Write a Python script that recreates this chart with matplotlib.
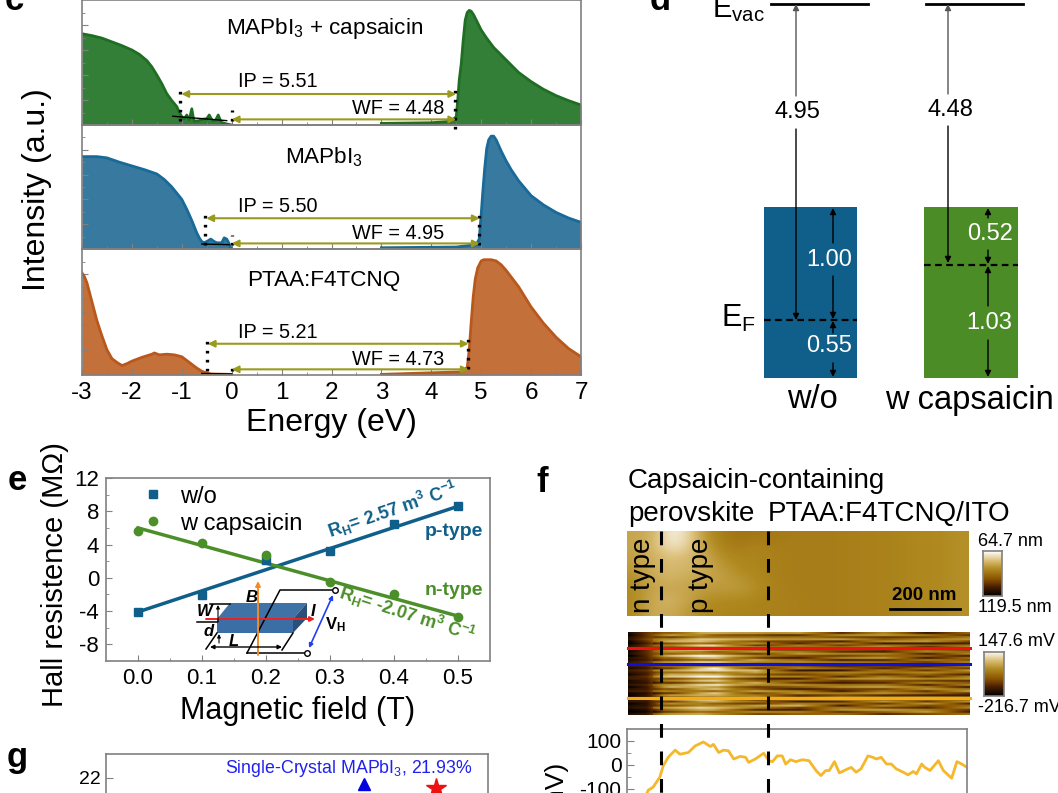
import matplotlib
matplotlib.use("Agg")
import matplotlib.pyplot as plt
import numpy as np
from matplotlib.colors import LinearSegmentedColormap
from matplotlib.patches import Polygon, Rectangle

plt.rcParams['font.family'] = ['Liberation Sans', 'DejaVu Sans']
plt.rcParams['mathtext.default'] = 'regular'
plt.rcParams['axes.unicode_minus'] = False

# panel c, UPS spectra (valence part, then cutoff part)
val_capsaicin_x = [-3, -2.8, -2.6, -2.4, -2.2, -2, -1.85, -1.7, -1.6, -1.5, -1.4, -1.3, -1.2, -1.1, -1.05, -1,
                   -0.95, -0.9, -0.85, -0.8, -0.77, -0.75, -0.65, -0.6, -0.5, -0.45, -0.41, -0.38, -0.32, -0.27,
                   -0.23, -0.2, -0.1, 0]
val_capsaicin_y = [.73, .715, .695, .665, .635, .60, .565, .515, .465, .40, .33, .25, .195, .147, .10, .067,
                   .05, .08, .04, .13, .06, .03, .035, .045, .05, .08, .05, .035, .04, .08,
                   .04, .02, .008, 0]
cut_capsaicin_x = [3, 4, 4.4, 4.5, 4.53, 4.56, 4.6, 4.64, 4.68, 4.72, 4.76, 4.8, 4.85, 4.9, 5, 5.1, 5.25, 5.5,
                   5.75, 6, 6.25, 6.5, 6.75, 7]
cut_capsaicin_y = [.013, .018, .03, .067, .20, .36, .49, .68, .84, .90, .917, .91, .88, .84, .76, .70, .62, .52,
                   .42, .347, .285, .235, .195, .16]

val_mapbi_x = [-3, -2.7, -2.5, -2.25, -2, -1.75, -1.5, -1.35, -1.2, -1.1, -1, -0.9, -0.8, -0.7, -0.65, -0.6,
               -0.55, -0.48, -0.42, -0.35, -0.3, -0.2, -0.15, -0.1, -0.06, -0.03, 0]
val_mapbi_y = [.745, .745, .735, .70, .67, .64, .605, .56, .50, .45, .40, .32, .23, .13, .09, .06,
               .05, .065, .08, .06, .05, .05, .09, .08, .05, .02, 0]
cut_mapbi_x = [3, 4.5, 4.9, 4.96, 5, 5.03, 5.07, 5.11, 5.15, 5.2, 5.25, 5.3, 5.4, 5.5, 5.6, 5.75, 6, 6.25, 6.5,
               6.75, 7]
cut_mapbi_y = [.01, .016, .035, .08, .28, .45, .65, .81, .88, .91, .91, .88, .79, .71, .64, .55, .43, .355, .295,
               .25, .215]

val_ptaa_x = [-3, -2.95, -2.9, -2.8, -2.7, -2.6, -2.5, -2.4, -2.3, -2.2, -2.1, -2, -1.8, -1.6, -1.55, -1.45,
              -1.3, -1.15, -1, -0.9, -0.8, -0.7, -0.6, -0.5, -0.4, 0]
val_ptaa_y = [.81, .78, .73, .58, .43, .31, .20, .13, .10, .075, .09, .11, .14, .165, .175, .16,
              .165, .16, .145, .115, .085, .055, .03, .015, .008, .005]
cut_ptaa_x = [3, 4.6, 4.72, 4.76, 4.8, 4.84, 4.88, 4.93, 5, 5.05, 5.2, 5.3, 5.4, 5.5, 5.75, 6, 6.25, 6.5, 6.75, 7]
cut_ptaa_y = [.005, .025, .06, .2, .42, .62, .76, .85, .905, .915, .915, .905, .875, .83, .70, .54, .41, .30,
              .21, .145]

ip_starts = [-1.03, -0.53, -0.50]
wf_values = [4.48, 4.95, 4.73]
ip_labels = ['IP = 5.51', 'IP = 5.50', 'IP = 5.21']
wf_labels = ['WF = 4.48', 'WF = 4.95', 'WF = 4.73']
sample_names = ['MAPbI$_3$ + capsaicin', 'MAPbI$_3$', 'PTAA:F4TCNQ']
# black baseline fits at the onset
onset_x = [(-1.18, -0.1), (-0.6, -0.05), (-0.6, 0)]
onset_y = [(.07, .035), (.04, .035), (.012, .008)]

# panel e, Hall data
field = [0.0, 0.1, 0.2, 0.3, 0.4, 0.5]
hall_wo = [-4.15, -2.1, 2.1, 3.2, 6.5, 8.6]
hall_cap = [5.6, 4.2, 2.7, -0.5, -2.0, -4.7]
fit_field = [0.0, 0.5]
fit_wo = [-4.1, 8.6]
fit_cap = [6.0, -4.6]

# panel d, energy levels (labels)
levels_wo = ['4.95', '1.00', '0.55']
levels_cap = ['4.48', '0.52', '1.03']

# panel f, topography read on a coarse grid (colour fraction, rows top to bottom)
topo_left = [
    [.70, .74, .95, .90, .65, .55, .50, .52, .52, .55],
    [.70, .76, .92, .86, .68, .58, .53, .58, .55, .55],
    [.68, .74, .80, .78, .72, .62, .58, .58, .56, .55],
    [.66, .73, .78, .76, .72, .66, .60, .58, .56, .55],
    [.62, .72, .75, .72, .70, .68, .64, .60, .56, .55],
    [.60, .70, .70, .70, .66, .66, .66, .62, .57, .55],
    [.60, .72, .76, .70, .62, .60, .60, .58, .56, .56],
    [.60, .72, .72, .66, .60, .58, .57, .57, .56, .56],
]
topo_right = [.55, .55, .55, .56, .56, .57, .58, .59, .60, .62]

# panel f, potential map on a coarse grid plus line streaks
kp_base = [
    [.05, .28, .50, .56, .66, .59, .54, .52, .45, .43, .43, .43, .43, .43, .43, .41, .39, .37, .39, .41],
    [.05, .25, .53, .60, .68, .60, .54, .52, .45, .43, .43, .43, .43, .43, .43, .41, .37, .35, .38, .41],
    [.03, .23, .53, .62, .70, .62, .54, .50, .45, .43, .43, .43, .43, .43, .43, .41, .37, .35, .38, .41],
    [.08, .21, .50, .59, .70, .68, .54, .50, .41, .39, .39, .41, .43, .43, .41, .39, .37, .37, .39, .41],
    [.10, .20, .50, .59, .72, .74, .56, .50, .41, .38, .38, .39, .41, .43, .43, .41, .41, .41, .39, .41],
    [.10, .19, .50, .56, .70, .72, .54, .50, .41, .37, .37, .39, .39, .41, .43, .43, .45, .43, .41, .41],
    [.08, .17, .49, .56, .68, .72, .54, .50, .43, .39, .37, .37, .37, .41, .43, .43, .43, .43, .41, .41],
    [.08, .15, .47, .52, .64, .66, .52, .48, .43, .41, .39, .39, .41, .43, .45, .45, .45, .43, .41, .39],
    [.06, .13, .49, .56, .66, .62, .52, .48, .45, .45, .43, .43, .43, .45, .45, .45, .45, .43, .41, .39],
    [.05, .11, .47, .56, .64, .56, .50, .46, .43, .43, .41, .41, .41, .43, .43, .43, .43, .41, .39, .38],
]
streak_left = [.02, -.06, .05, .09, -.03, -.08, .04, .10, -.05, .02, .07, -.09, .03, -.02, .08, -.07,
               .05, -.04, .10, .01, -.08, .06, .09, -.06, -.01, .07, -.10, .04, .12, -.05,
               -.09, .06, .00, .10, -.07, .03, .08, -.04, -.08, .05]
streak_right = [-.05, .06, -.09, .04, .08, -.07, .01, -.10, .07, .03, -.06, .09, -.04, -.08, .05, .10,
                -.03, -.09, .06, -.02, .08, .12, -.07, .02, -.10, .05, .09, -.06, .03, -.08,
                .07, -.03, .10, -.09, .04, -.05, .08, .00, -.07, .06]

# panel f, potential line profile
profile_nm = [0, 30, 61, 75, 94, 104, 118, 138, 152, 176, 195, 219, 239, 248, 263, 277, 291, 306, 325, 340,
              349, 368, 392, 407, 417, 431, 445, 455, 469, 484, 503, 522, 542, 556, 570, 580, 595, 609, 633,
              643, 657, 671, 691, 705, 715, 729, 744, 758, 772, 792, 806, 821, 830, 845, 854, 869, 893, 907,
              931, 946, 960, 975]
profile_mv = [-300, -200, -105, -92, -51, -3, 32, 62, 45, 52, 79, 96, 77, 86, 52, 62, 59, 25, 36, 32,
              11, 25, 49, 18, 14, 38, 38, 4, 22, 14, 22, 18, -23, -44, -23, -23, 14, -33, -16,
              -10, -30, -16, 38, 32, 25, 32, 4, 4, -16, -30, -41, -27, -37, 4, -10, -23, 18, -23,
              -55, 14, 4, -10]

# panel g, only the top of it is in the crop
years_triangle = [2018]
pce_triangle = [21.93]
years_star = [2020]
pce_star = [21.88]

W, H = 1058, 793
GREY = '#808080'
BLUE = '#0f5f8a'
GREEN = '#4b8f29'
OLIVE = '#9a9a20'
afm = LinearSegmentedColormap.from_list(
    'afm', ['#000000', '#4a1f00', '#8f5a05', '#b08a20', '#dcc07a', '#ffffff'])


def px_axes(left, top, right, bottom):
    return fig.add_axes([left / W, 1 - bottom / H, (right - left) / W, (bottom - top) / H])


def grey_frame(ax):
    for s in ax.spines.values():
        s.set_color(GREY)
        s.set_linewidth(1.2)


fig = plt.figure(figsize=(W / 100, H / 100), dpi=100)

# ---- panel c ----
tops = [0, 125, 249]
bottoms = [125, 249, 375]
valence = [(val_capsaicin_x, val_capsaicin_y), (val_mapbi_x, val_mapbi_y), (val_ptaa_x, val_ptaa_y)]
cutoff = [(cut_capsaicin_x, cut_capsaicin_y), (cut_mapbi_x, cut_mapbi_y), (cut_ptaa_x, cut_ptaa_y)]
line_cols = ['#1f6e24', '#186a98', '#b9581c']
fill_cols = ['#337f38', '#37799f', '#c4703a']
text_y = [(.347, .128), (.339, .129), (.334, .126)]
dots_top = [.31, .30, .30]
dots_low = [-.03, .035, .045]
zero_top = [.12, .115, .107]

for i in range(3):
    ax = px_axes(82, tops[i], 581, bottoms[i])
    for seg in (valence[i], cutoff[i]):
        ax.fill_between(seg[0], 0, seg[1], color=fill_cols[i], lw=0)
        ax.plot(seg[0], seg[1], color=line_cols[i], lw=2)
    ax.plot(onset_x[i], onset_y[i], color='black', lw=1)
    ax.set_xlim(-3, 7)
    ax.set_ylim(0, 1)
    ax.set_xticks(range(-3, 8))
    ax.set_xticks(np.arange(-2.5, 7, 1), minor=True)
    ax.set_yticks([.2, .4, .6, .8])
    ax.set_yticks([.1, .3, .5, .7, .9], minor=True)
    ax.set_yticklabels([])
    ax.tick_params(which='major', direction='in', length=4, color=GREY)
    ax.tick_params(which='minor', direction='in', length=2, color=GREY)
    ax.tick_params(axis='x', labelsize=17.5, pad=5, labelbottom=(i == 2))
    grey_frame(ax)
    ax.patch.set_alpha(0)

    ax.annotate('', (wf_values[i] + 0.02, .248), (ip_starts[i] + 0.02, .248),
                arrowprops=dict(arrowstyle='<|-|>', color=OLIVE, lw=1.5, mutation_scale=10, shrinkA=0, shrinkB=0))
    ax.annotate('', (wf_values[i] + 0.02, .045), (0, .045),
                arrowprops=dict(arrowstyle='<|-|>', color=OLIVE, lw=1.5, mutation_scale=10, shrinkA=0, shrinkB=0))
    dot = dict(color='black', ls=(0, (0.8, 1.9)), lw=2.4, clip_on=False)
    ax.plot([ip_starts[i]] * 2, [.03, dots_top[i]], **dot)
    ax.plot([0, 0], [.03, zero_top[i]], **dot)
    ax.plot([wf_values[i]] * 2, [dots_low[i], dots_top[i]], **dot)
    ax.text(0.93, text_y[i][0], ip_labels[i], fontsize=14.3, ha='center', va='center')
    ax.text(3.33, text_y[i][1], wf_labels[i], fontsize=14.3, ha='center', va='center')
    ax.text(1.85, .775 if i == 0 else .74 if i == 1 else .75, sample_names[i], fontsize=16.2,
            ha='center', va='center')
    if i == 2:
        ax.set_xlabel('Energy (eV)', fontsize=23, labelpad=3)

# ---- panel e ----
ax = px_axes(106, 478, 490, 661)
ax.plot(fit_field, fit_wo, color=BLUE, lw=2.5)
ax.plot(fit_field, fit_cap, color=GREEN, lw=2.5)
wo_pts, = ax.plot(field, hall_wo, 's', color=BLUE, ms=6, label='w/o')
cap_pts, = ax.plot(field, hall_cap, 'o', color=GREEN, ms=6, label='w capsaicin')
ax.set_xlim(-0.05, 0.55)
ax.set_ylim(-10, 12)
ax.set_xticks(field)
ax.set_xticks(np.arange(0.05, 0.55, 0.1), minor=True)
ax.set_yticks([-8, -4, 0, 4, 8, 12])
ax.set_yticks([-6, -2, 2, 6, 10], minor=True)
ax.tick_params(which='major', direction='in', length=4, labelsize=16, color=GREY, pad=5)
ax.tick_params(which='minor', direction='in', length=2, color=GREY)
grey_frame(ax)
ax.set_xlabel('Magnetic field (T)', fontsize=22, labelpad=5)
ax.legend(handles=[wo_pts, cap_pts], loc='upper left', bbox_to_anchor=(0.02, 1.075), frameon=False,
          fontsize=17, handletextpad=0.4, labelspacing=0.22, handlelength=1.5)
ax.text(0.398, 8.2, 'R$_H$= 2.57 m$^3$ C$^{-1}$', color=BLUE, fontsize=13, rotation=19,
        ha='center', va='center', fontweight='bold')
ax.text(0.42, -4.4, 'R$_H$= -2.07 m$^3$ C$^{-1}$', color=GREEN, fontsize=13, rotation=-18,
        ha='center', va='center', fontweight='bold')
ax.text(0.494, 5.6, 'p-type', color=BLUE, fontsize=14, fontweight='bold', ha='center', va='center')
ax.text(0.494, -1.5, 'n-type', color=GREEN, fontsize=14, fontweight='bold', ha='center', va='center')

# ---- panel f, images ----
ax = px_axes(627, 531, 969, 616)
topo = [row + topo_right for row in topo_left]
ax.imshow(topo, cmap=afm, vmin=0, vmax=1, aspect='auto', interpolation='bicubic')
ax.axis('off')

ax = px_axes(628, 632, 970, 715)
kp_rows = np.repeat(np.array(kp_base), 4, axis=0)
cols = np.arange(kp_rows.shape[1])
fine_cols = np.linspace(0, cols[-1], 342)
kp = np.array([np.interp(fine_cols, cols, row) for row in kp_rows])
# scan lines keep their character over a stretch of the image, then change
left, right = np.array(streak_left), np.array(streak_right)
anchors = np.linspace(0, cols[-1], 9)
anchor_rows = np.array([left, right, left[::-1], right[::-1], np.roll(left, 7), np.roll(right, 11),
                        np.roll(left, 19), np.roll(right, 23), left]).T
streaks = np.array([np.interp(fine_cols, anchors, row) for row in anchor_rows])
streaks[:, :25] *= 0.3
kp = kp + 2.5 * streaks
ax.imshow(kp, cmap=afm, vmin=0, vmax=1, aspect='auto', interpolation='antialiased')
ax.axis('off')

bar = np.linspace(1, 0, 64)[:, None]
ax = px_axes(983, 551, 1002, 596)
ax.imshow(bar, cmap=afm, aspect='auto')
ax.set_xticks([])
ax.set_yticks([])
grey_frame(ax)
ax = px_axes(984, 652, 1004, 696)
ax.imshow(bar, cmap=afm, aspect='auto')
ax.set_xticks([])
ax.set_yticks([])
grey_frame(ax)

# line profile, runs off the bottom of the crop
ax = px_axes(627, 729, 967, 900)
ax.plot(profile_nm, profile_mv, color='#f5b82a', lw=2)
ax.set_xlim(0, 975)
ax.set_ylim(-562.5, 150)
ax.set_xticks([])
ax.set_yticks([-100, 0, 100])
ax.set_yticks([-50, 50], minor=True)
ax.tick_params(which='major', direction='in', length=5, labelsize=15, color=GREY, pad=4)
ax.tick_params(which='minor', direction='in', length=3, color=GREY)
grey_frame(ax)

# ---- panel g ----
ax = px_axes(106, 754, 488, 1000)
ax.plot(years_triangle, pce_triangle, '^', color='#0000e0', ms=9)
ax.plot(years_star, pce_star, '*', color='#ee1111', ms=15)
ax.set_xlim(2010.83, 2021.44)
ax.set_ylim(19.39, 22.28)
ax.set_xticks([])
ax.set_yticks([22])
ax.tick_params(direction='in', length=5, labelsize=14, color=GREY)
grey_frame(ax)
ax.text(2017.58, 22.115, 'Single-Crystal MAPbI$_3$, 21.93%', color='#2020f0', fontsize=12.8,
        ha='center', va='center')

# ---- overlay in picture pixels: schematics and free labels ----
ov = fig.add_axes([0, 0, 1, 1], zorder=10)
ov.set_xlim(0, W)
ov.set_ylim(H, 0)
ov.axis('off')
ov.patch.set_alpha(0)


def arrow(x0, y0, x1, y1, color='black', lw=1.0, style='-|>', ms=9):
    ov.annotate('', (x1, y1), (x0, y0),
                arrowprops=dict(arrowstyle=style, color=color, lw=lw, mutation_scale=ms, shrinkA=0, shrinkB=0))


# panel letters
for s, x, y in [('c', 14, 0), ('d', 660, 0), ('e', 17, 480), ('f', 542, 482), ('g', 17, 757)]:
    ov.text(x, y, s, fontsize=25, fontweight='bold', ha='center', va='center')

ov.text(37, 190, 'Intensity (a.u.)', fontsize=23, rotation=90, ha='center', va='center')
ov.text(55, 575, 'Hall resistence (MΩ)', fontsize=21, rotation=90, ha='center', va='center')
ov.text(557, 763, 'CPD (mV)', fontsize=19, rotation=90, ha='center', va='top')

# panel d
ov.add_patch(Rectangle((764, 207), 93, 171, color=BLUE, lw=0))
ov.add_patch(Rectangle((924, 207), 94, 171, color='#4c8c27', lw=0))
ov.plot([771, 868], [4, 4], color='black', lw=2)
ov.plot([926, 1023], [4, 4], color='black', lw=2)
ov.plot([764, 857], [320, 320], color='black', lw=1.6, ls=(0, (3, 2)))
ov.plot([924, 1018], [265, 265], color='black', lw=1.6, ls=(0, (3, 2)))
arrow(796, 96, 796, 4, color='#555555')
arrow(796, 129, 796, 320)
arrow(948, 94, 948, 4, color='#555555')
arrow(948, 126, 948, 263)
arrow(833, 243, 833, 208)
arrow(833, 276, 833, 319)
arrow(833, 333, 833, 321)
arrow(833, 363, 833, 377)
arrow(988, 218, 988, 208)
arrow(988, 250, 988, 264)
arrow(988, 306, 988, 266)
arrow(988, 340, 988, 377)
ov.text(797, 112, levels_wo[0], fontsize=17, ha='center', va='center')
ov.text(950, 110, levels_cap[0], fontsize=17, ha='center', va='center')
ov.text(829, 260, levels_wo[1], fontsize=17, color='white', ha='center', va='center')
ov.text(829, 346, levels_wo[2], fontsize=17, color='white', ha='center', va='center')
ov.text(990, 234, levels_cap[1], fontsize=17, color='white', ha='center', va='center')
ov.text(989, 323, levels_cap[2], fontsize=17, color='white', ha='center', va='center')
ov.text(738, 10, 'E$_{vac}$', fontsize=21, ha='center', va='center')
ov.text(738, 318, 'E$_{F}$', fontsize=22, ha='center', va='center')
ov.text(812, 399, 'w/o', fontsize=23.5, ha='center', va='center')
ov.text(969, 400, 'w capsaicin', fontsize=23.5, ha='center', va='center')

# panel e inset
ov.add_patch(Polygon([(217, 619), (293, 619), (293, 633), (217, 633)], color='#3a6ea5', lw=0))
ov.add_patch(Polygon([(217, 619), (230, 603), (307, 603), (293, 619)], color='#3f73a8', lw=0))
ov.add_patch(Polygon([(293, 619), (307, 603), (307, 618), (293, 633)], color='#2b4f78', lw=0))
ov.plot([247, 280, 335], [653, 590, 590], color='black', lw=1.1)
ov.plot([247, 307], [653, 653], color='black', lw=1.1)
ov.plot([282, 293], [650, 633], color='black', lw=1.1)
ov.plot([206, 217], [649, 633], color='black', lw=1.1)
ov.plot([210, 230], [604, 604], color='black', lw=1.1)
ov.plot([197, 217], [622, 622], color='black', lw=1.1)
ov.plot([335], [590], 'o', mfc='white', mec='black', ms=4)
ov.plot([307], [653], 'o', mfc='white', mec='black', ms=4)
arrow(206, 619, 315, 619, color='#ee2020', lw=1.4, ms=7)
arrow(258, 655, 258, 581, color='#f08c28', lw=1.4, ms=7)
arrow(282, 647, 210, 647, style='<|-|>', lw=1, ms=6)
arrow(309, 648, 333, 595, color='#2040f0', style='<|-|>', lw=1.2, ms=6)
arrow(218, 622, 218, 605, lw=0.8, ms=5)
arrow(219, 643, 219, 634, lw=0.8, ms=5)
ov.text(252, 598, 'B', fontsize=12, style='italic', fontweight='bold', ha='center', va='center')
ov.text(205, 612, 'W', fontsize=12, style='italic', fontweight='bold', ha='center', va='center')
ov.text(209, 631, 'd', fontsize=12, style='italic', fontweight='bold', ha='center', va='center')
ov.text(234, 642, 'L', fontsize=12, style='italic', fontweight='bold', ha='center', va='center')
ov.text(313, 611, 'I', fontsize=12, style='italic', fontweight='bold', ha='center', va='center')
ov.text(335, 625, 'V$_H$', fontsize=12, fontweight='bold', ha='center', va='center')

# panel f labels and markers
ov.text(628, 481, 'Capsaicin-containing', fontsize=20, ha='left', va='center')
ov.text(628, 514, 'perovskite', fontsize=20, ha='left', va='center')
ov.text(768, 514, 'PTAA:F4TCNQ/ITO', fontsize=20, ha='left', va='center')
ov.text(643, 575, 'n type', fontsize=20, rotation=90, ha='center', va='center')
ov.text(701, 575, 'p type', fontsize=20, rotation=90, ha='center', va='center')
ov.text(924, 595, '200 nm', fontsize=13.5, fontweight='bold', ha='center', va='center')
ov.plot([890, 960], [609, 609], color='black', lw=2)
ov.plot([628, 970], [648, 648], color='#f01010', lw=2.2)
ov.plot([628, 970], [664, 664], color='#1010d8', lw=2.2)
ov.plot([628, 970], [698, 698], color='#f5ac10', lw=2.2)
for x in (660.5, 768):
    ov.plot([x, x], [531, 793], color='black', lw=2.2, ls=(0, (4.5, 4.5)))
ov.text(978, 542, '64.7 nm', fontsize=13, ha='left', va='center')
ov.text(978, 608, '119.5 nm', fontsize=13, ha='left', va='center')
ov.text(978, 642, '147.6 mV', fontsize=13, ha='left', va='center')
ov.text(978, 707, '-216.7 mV', fontsize=13, ha='left', va='center')

fig.savefig('out.png', dpi=100)
